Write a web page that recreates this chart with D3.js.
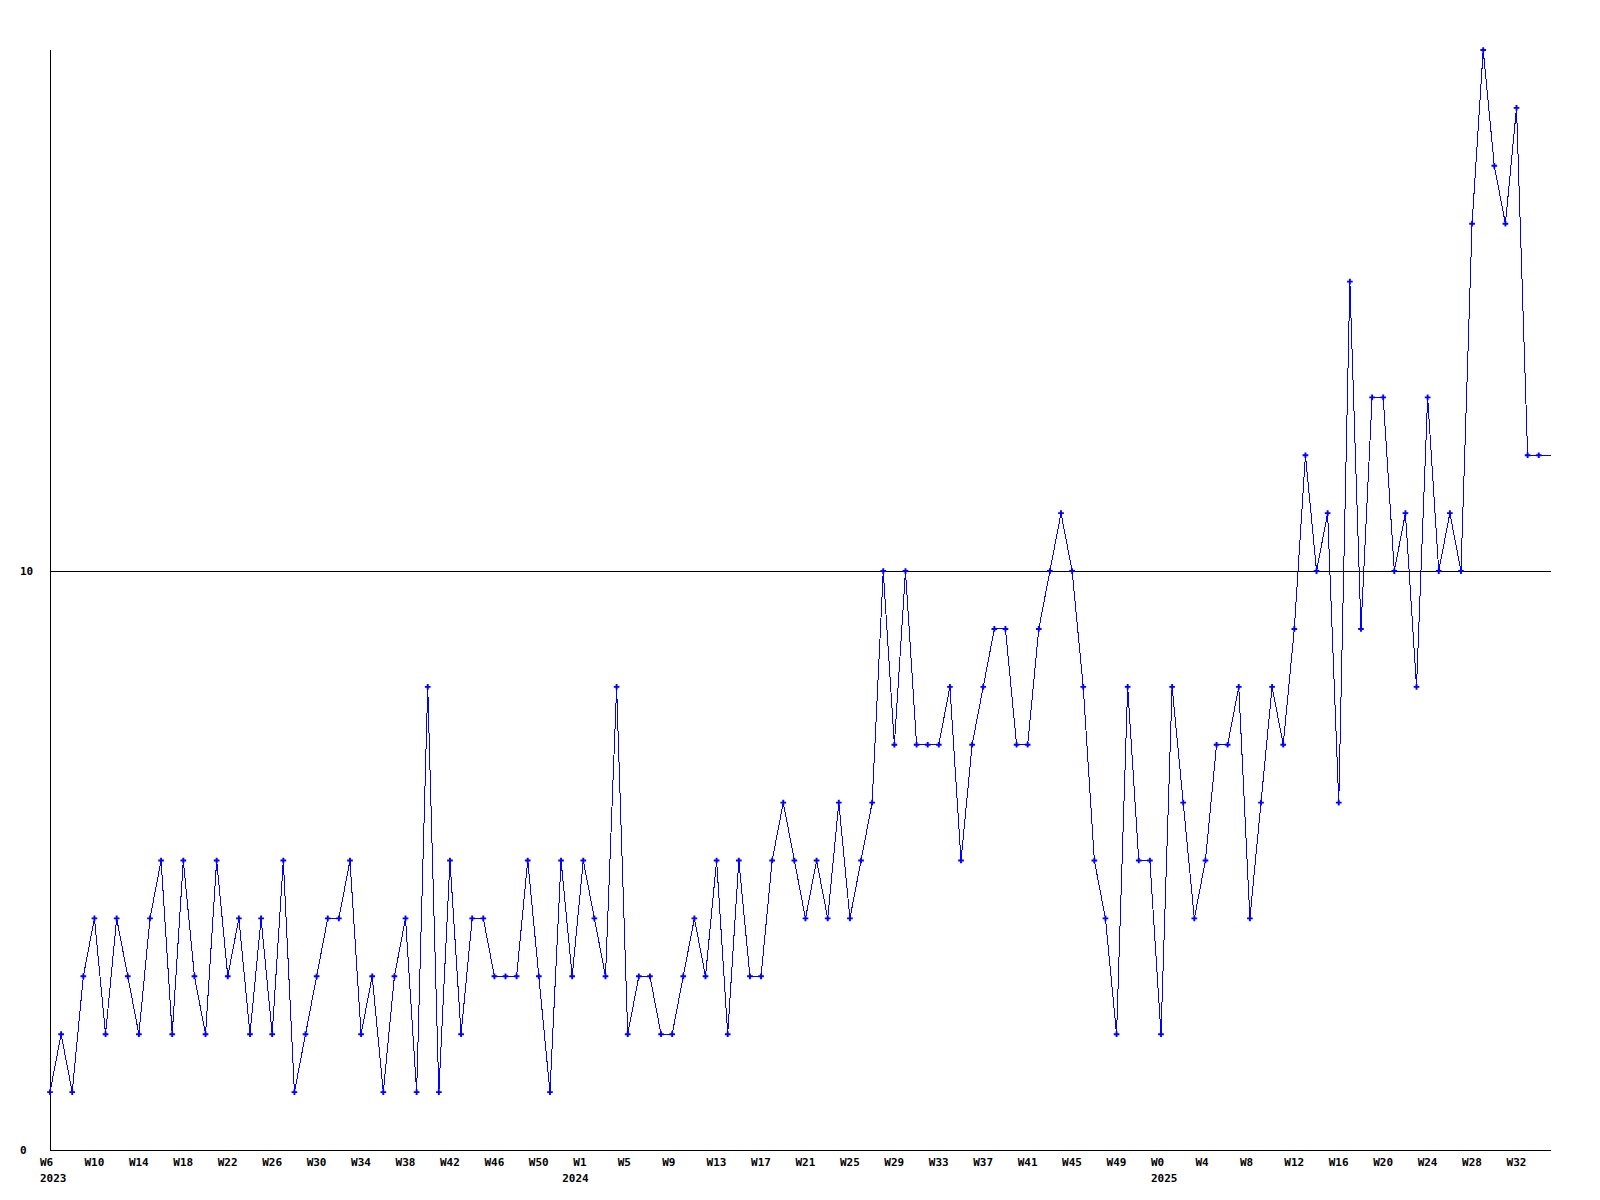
<!DOCTYPE html>
<html>
<head>
<meta charset="utf-8">
<script src="https://cdn.jsdelivr.net/npm/d3@7"></script>
<style>
  html, body { margin: 0; padding: 0; background: #fff; }
  svg text { font-family: "DejaVu Sans Mono", monospace; font-weight: bold; font-size: 11px; fill: #000; }
</style>
</head>
<body>
<svg id="chart" width="1600" height="1200"></svg>
<script>
// Weekly values, W6 2023 .. W34 2025 (index-based weeks)
const values = [
  1, 2, 1, 3, 4, 2, 4, 3, 2, 4,
  5, 2, 5, 3, 2, 5, 3, 4, 2, 4,
  2, 5, 1, 2, 3, 4, 4, 5, 2, 3,
  1, 3, 4, 1, 8, 1, 5, 2, 4, 4,
  3, 3, 3, 5, 3, 1, 5, 3, 5, 4,
  3, 8, 2, 3, 3, 2, 2, 3, 4, 3,
  5, 2, 5, 3, 3, 5, 6, 5, 4, 5,
  4, 6, 4, 5, 6, 10, 7, 10, 7, 7,
  7, 8, 5, 7, 8, 9, 9, 7, 7, 9,
  10, 11, 10, 8, 5, 4, 2, 8, 5, 5,
  2, 8, 6, 4, 5, 7, 7, 8, 4, 6,
  8, 7, 9, 12, 10, 11, 6, 15, 9, 13,
  13, 10, 11, 8, 13, 10, 11, 10, 16, 19,
  17, 16, 18, 12, 12
];
// Week tick labels (every 4th point)
const weekTickIndex = [0,4,8,12,16,20,24,28,32,36,40,44,48,52,56,60,64,68,72,76,80,84,88,92,96,100,104,108,112,116,120,124,128,132];
const weekTickLabels = ["W6","W10","W14","W18","W22","W26","W30","W34","W38","W42","W46","W50",
  "W1","W5","W9","W13","W17","W21","W25","W29","W33","W37","W41","W45","W49",
  "W0","W4","W8","W12","W16","W20","W24","W28","W32"];
// Year labels
const yearTickIndex = [0, 47, 100];
const yearTickLabels = ["2023", "2024", "2025"];
// Y-axis ticks
const yTicks = [0, 10];
const yMax = 19;

(function () {
  const svg = d3.select("#chart");
  const mLeft = 50, mRight = 1551, mTop = 50, mBottom = 1150;
  const stepPx = 11.11;
  const x = d3.scaleLinear().domain([0, values.length - 1]).range([mLeft, mLeft + stepPx * (values.length - 1)]);
  const y = d3.scaleLinear().domain([0, yMax]).range([mBottom, mTop]);

  // horizontal grid line at 10
  svg.selectAll("line.grid").data(yTicks.filter(d => d > 0)).enter().append("line")
    .attr("class", "grid")
    .attr("x1", mLeft).attr("x2", mRight)
    .attr("y1", d => Math.round(y(d)) + 0.5).attr("y2", d => Math.round(y(d)) + 0.5)
    .attr("stroke", "#000").attr("stroke-width", 1).attr("shape-rendering", "crispEdges");

  // axes lines
  svg.append("line").attr("x1", mLeft + 0.5).attr("x2", mLeft + 0.5).attr("y1", mTop).attr("y2", mBottom + 0.5)
    .attr("stroke", "#000").attr("shape-rendering", "crispEdges");
  svg.append("line").attr("x1", mLeft).attr("x2", mRight).attr("y1", mBottom + 0.5).attr("y2", mBottom + 0.5)
    .attr("stroke", "#000").attr("shape-rendering", "crispEdges");

  // y labels
  svg.selectAll("text.ylab").data(yTicks).enter().append("text")
    .attr("class", "ylab")
    .attr("x", 20).attr("y", d => y(d) + 4)
    .text(d => d);

  // x week labels
  svg.selectAll("text.wlab").data(weekTickIndex).enter().append("text")
    .attr("class", "wlab")
    .attr("x", d => x(d) - 10).attr("y", 1166)
    .text((d, i) => weekTickLabels[i]);

  // year labels
  svg.selectAll("text.yrlab").data(yearTickIndex).enter().append("text")
    .attr("class", "yrlab")
    .attr("x", d => x(d) - 10).attr("y", 1182)
    .text((d, i) => yearTickLabels[i]);

  // data line, extended to the right edge with last value
  const pts = values.map((v, i) => [x(i), y(v)]);
  pts.push([mRight, y(values[values.length - 1])]);
  svg.append("path")
    .attr("d", d3.line()(pts))
    .attr("fill", "none").attr("stroke", "#0000ff").attr("stroke-width", 1)
    .attr("shape-rendering", "crispEdges");

  // markers
  const sym = d3.symbol().type(d3.symbolCross).size(18);
  svg.selectAll("path.mk").data(values).enter().append("path")
    .attr("class", "mk")
    .attr("transform", (d, i) => `translate(${x(i)},${y(d)})`)
    .attr("d", sym)
    .attr("fill", "#0000ff");
})();
</script>
</body>
</html>
